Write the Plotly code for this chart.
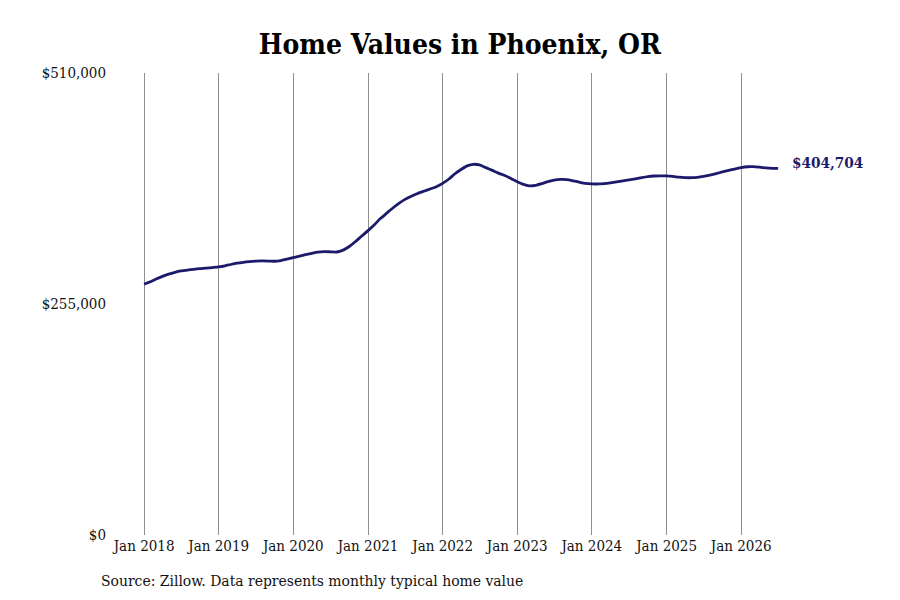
import pandas as pd
import plotly.graph_objects as go

# Monthly typical home value, Jan 2018 - Jul 2026 (in $ thousands)
START_MONTH = "2018-01-01"
VALUES_K = [
    276.8, 279.5, 282.5, 285.5, 288.0, 290.0, 291.5, 292.5, 293.3, 294.0, 294.5, 295.2,
    296.0, 297.2, 298.6, 300.0, 301.0, 301.8, 302.3, 302.5, 302.4, 302.2, 303.0, 304.5,
    306.3, 307.8, 309.5, 311.0, 312.3, 312.8, 312.6, 312.4, 314.5, 318.5, 324.0, 330.0,
    336.0, 342.5, 349.0, 355.0, 360.7, 366.0, 370.5, 374.0, 377.0, 379.5, 382.0, 384.5,
    388.2, 393.0, 398.5, 403.5, 407.5, 409.2, 408.5, 405.5, 402.5, 399.5, 396.8, 393.5,
    390.0, 387.0, 385.5, 386.0, 387.8, 390.0, 391.8, 392.6, 392.3, 391.0, 389.5, 388.2,
    387.6, 387.5, 388.0, 388.8, 389.8, 391.0, 392.0, 393.0, 394.5, 395.7, 396.3, 396.5,
    396.4, 395.8, 395.0, 394.5, 394.4, 394.8, 395.8, 397.3, 399.0, 400.8, 402.5, 404.0,
    405.5, 406.5, 406.6, 406.0, 405.3, 404.8, 404.704,
]

Y_TICKS = [0, 255000, 510000]
Y_TICK_TEXT = ["$0", "$255,000", "$510,000"]

TITLE = "Home Values in Phoenix, OR"
SOURCE = "Source: Zillow. Data represents monthly typical home value"

_LINE = "#1b1a6b"
_GRID = "#8f8f8f"
_FONT = "DejaVu Serif Condensed, DejaVu Serif, serif"

dates = pd.date_range(START_MONTH, periods=len(VALUES_K), freq="MS")
values = [v * 1000 for v in VALUES_K]

fig = go.Figure()
fig.add_trace(go.Scatter(
    x=dates, y=values, mode="lines",
    line=dict(color=_LINE, width=2.8, shape="spline", smoothing=0.6),
    hoverinfo="x+y", showlegend=False,
))

# end-of-line value label
fig.add_annotation(
    x=dates[-1], y=values[-1], text=f"<b>${values[-1]:,.0f}</b>",
    showarrow=False, xanchor="left", yanchor="middle", xshift=12, yshift=5,
    font=dict(family=_FONT, size=15.2, color=_LINE),
)

fig.add_annotation(
    xref="paper", yref="paper", x=-0.019, y=-0.1,
    text=SOURCE, showarrow=False, xanchor="left", yanchor="middle",
    font=dict(family=_FONT, size=15.5, color="#111111"),
)

t0 = pd.Timestamp(START_MONTH)
fig.update_layout(
    width=900, height=600,
    paper_bgcolor="white", plot_bgcolor="white",
    margin=dict(l=104, r=118, t=65, b=73),
    title=dict(
        text=f"<b>{TITLE}</b>", x=0.502, xref="container", xanchor="center",
        y=0.94, yanchor="middle",
        font=dict(family=_FONT, size=28, color="#000000"),
    ),
    font=dict(family=_FONT, size=15, color="#111111"),
    xaxis=dict(
        range=[t0 - pd.Timedelta(days=157), t0 + pd.Timedelta(days=3161)],
        tick0=START_MONTH, dtick="M12", tickformat="%b %Y",
        showgrid=True, gridcolor=_GRID, gridwidth=1,
        showline=False, zeroline=False, ticks="",
    ),
    yaxis=dict(
        range=[0, 510000], tickvals=Y_TICKS, ticktext=Y_TICK_TEXT,
        showgrid=False, zeroline=False, showline=False, ticks="",
        ticklabelstandoff=5,
    ),
)

fig.write_html("out.html")
